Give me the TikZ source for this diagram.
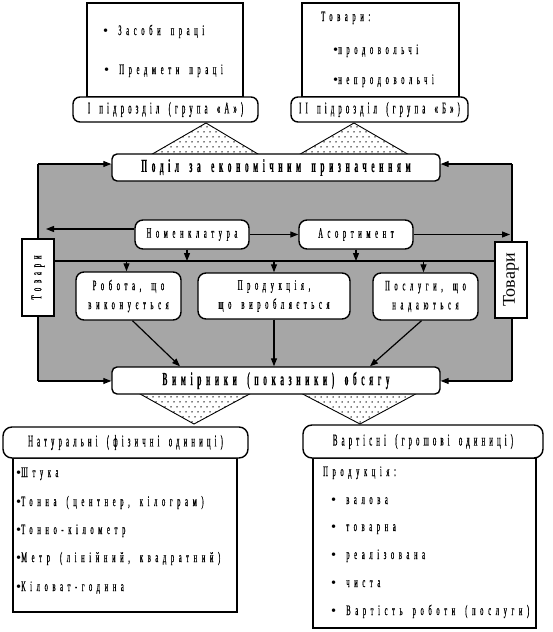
\documentclass[tikz,border=0pt]{standalone}
\usepackage{fontspec}
\setmainfont{Liberation Serif}
\newfontfamily\itemfont{Liberation Serif}[FakeStretch=0.45,LetterSpace=32,WordSpace=1.6,FakeBold=0.6]
\newfontfamily\labfont{Liberation Serif}[FakeStretch=0.41,LetterSpace=25,WordSpace=1.6,FakeBold=0.6]
\newfontfamily\headfont{Liberation Serif}[FakeStretch=0.4,LetterSpace=25,WordSpace=1.6,FakeBold=0.4]
\usetikzlibrary{arrows.meta,patterns,positioning}
\definecolor{panelgray}{RGB}{166,166,166}
\pgfdeclarepatternformonly{sparsedots}{\pgfqpoint{-1pt}{-1pt}}{\pgfqpoint{7pt}{11pt}}{\pgfqpoint{6pt}{10pt}}{%
  \pgfpathcircle{\pgfqpoint{0pt}{0pt}}{0.75pt}%
  \pgfpathcircle{\pgfqpoint{3pt}{5pt}}{0.75pt}%
  \pgfusepath{fill}}
\newcommand{\itemdot}{{\normalfont\textbullet}}
\tikzset{
  sheet/.style={draw, line width=1.4pt, fill=white, inner sep=0pt},
  lab/.style={draw, line width=1.4pt, fill=white, rounded corners=7pt, inner sep=0pt, font=\labfont\fontsize{16.5}{18}\selectfont},
  head/.style={draw, line width=1.4pt, fill=white, rounded corners=5pt, inner sep=0pt, font=\headfont\bfseries\fontsize{18.5}{20}\selectfont},
  inbox/.style={draw, line width=1.4pt, fill=white, rounded corners=8pt, inner sep=0pt, align=center, font=\itemfont\fontsize{14.5}{16}\selectfont},
  itemtext/.style={anchor=base west, inner sep=0pt, font=\itemfont\fontsize{14.5}{16}\selectfont},
  flow/.style={line width=1.2pt, -{Triangle[length=8pt,width=6pt]}},
  rim/.style={line width=1.2pt},
  funnel/.style={draw, line width=0.9pt, pattern=sparsedots},
}

\begin{document}
\begin{tikzpicture}[x=1pt,y=-1pt]
	\useasboundingbox (0,0) rectangle (552,632);
	\fill[panelgray] (38,164) rectangle (512,381);
	\coordinate (p1) at (38,164);
	\coordinate (p2) at (512,164);
	\coordinate (p3) at (38,381);
	\coordinate (p4) at (512,381);
	\draw[rim] (p1) -- (p3);
	\draw[rim] (p2) -- (p4);
	\draw[funnel] (142,160) -- (206,123) -- (268,160) -- cycle;
	\draw[funnel] (290,160) -- (354,123) -- (418,160) -- cycle;
	\draw[funnel] (133,390) -- (194,424) -- (257,390) -- cycle;
	\draw[funnel] (295,390) -- (360,424) -- (423,390) -- cycle;

	\node[sheet, minimum width=156pt, minimum height=94pt] (t1) at (165,50) {};
	\node[itemtext] (t1a) at (103,35) {\itemdot\ Засоби праці};
	\node[itemtext] (t1b) at (104,74) {\itemdot\ Предмети праці};
	\node[lab, minimum width=185pt, minimum height=25pt] (l1) at (165.5,109.5) {І підрозділ (група «А»)};
	\node[sheet, minimum width=157pt, minimum height=94pt] (t2) at (380.5,50) {};
	\node[itemtext] (t2a) at (321,21) {Товари:};
	\node[itemtext] (t2b) at (333,54) {\itemdot продовольчі};
	\node[itemtext] (t2c) at (333,84) {\itemdot непродовольчі};
	\node[lab, minimum width=177pt, minimum height=25pt] (l2) at (379.5,109.5) {ІІ підрозділ (група «Б»)};

	\node[head, minimum width=328pt, minimum height=27pt] (split) at (276,167.5) {Поділ за економічним призначенням};
	\draw[flow] (p1) -- (p1 -| split.west);
	\draw[flow] (p2) -- (p2 -| split.east);

	\node[inbox, minimum width=114pt, minimum height=29pt] (nom) at (192,234.5) {Номенклатура};
	\node[inbox, minimum width=114pt, minimum height=29pt] (asort) at (356,234.5) {Асортимент};
	\coordinate (n1) at (46,229);
	\coordinate (n2) at (510,234.5);
	\draw[flow] (nom.west |- n1) -- (n1);
	\draw[flow] (nom.east) -- (asort.west);
	\draw[flow] (asort.east) -- (n2);

	\node[sheet, minimum width=32pt, minimum height=77pt] (gl) at (38,277.5) {\rotatebox{90}{\itemfont\fontsize{15}{16}\selectfont Товари}};
	\node[sheet, minimum width=32pt, minimum height=76pt] (gr) at (511,280) {\rotatebox{90}{\fontsize{18}{19}\selectfont Товари}};
	\coordinate (h1) at (0,261);
	\draw[rim] (gl.east |- h1) -- (gr.west |- h1);
	\draw[flow] ([xshift=-5pt]nom.south) -- ([xshift=-5pt]nom.south |- h1);
	\draw[flow] (asort.south) -- (asort.south |- h1);

	\node[inbox, minimum width=105pt, minimum height=48pt] (w1) at (128.5,296) {Робота, що\\[3pt]виконується};
	\node[inbox, minimum width=152pt, minimum height=46pt] (w2) at (274,296) {Продукція,\\[3pt]що виробляється};
	\node[inbox, minimum width=105pt, minimum height=47pt] (w3) at (425.5,296.5) {Послуги, що\\[3pt]надаються};
	\draw[flow] ([xshift=-2pt]w1.north |- h1) -- ([xshift=-2pt]w1.north);
	\draw[flow] (w2.north |- h1) -- (w2.north);
	\draw[flow] ([xshift=-2pt]w3.north |- h1) -- ([xshift=-2pt]w3.north);

	\node[head, minimum width=328pt, minimum height=27pt] (meas) at (276,380.5) {Вимірники (показники) обсягу};
	\draw[flow] ([xshift=4pt]w1.south) -- ([xshift=-96pt]meas.north);
	\draw[flow] (w2.south) -- (w2.south |- meas.north);
	\draw[flow] ([xshift=-4pt]w3.south) -- ([xshift=94pt]meas.north);
	\draw[flow] (p3) -- (p3 -| meas.west);
	\draw[flow] (p4) -- (p4 -| meas.east);

	\node[sheet, minimum width=224pt, minimum height=154pt] (natlist) at (125,535) {};
	\node[lab, rounded corners=9pt, minimum width=245pt, minimum height=31pt] (nat) at (125.5,442.5) {Натуральні (фізичні одиниці)};
	\node[itemtext] (u1) at (16,477) {\itemdot Штука};
	\node[itemtext] (u2) at (16,506) {\itemdot Тонна (центнер, кілограм)};
	\node[itemtext] (u3) at (16,534) {\itemdot Тонно-кілометр};
	\node[itemtext] (u4) at (16,562) {\itemdot Метр (лінійний, квадратний)};
	\node[itemtext] (u5) at (16,591) {\itemdot Кіловат-година};

	\node[sheet, minimum width=223pt, minimum height=170pt] (vallist) at (424.5,543) {};
	\node[lab, rounded corners=9pt, minimum width=240pt, minimum height=33pt] (val) at (423,441.5) {Вартісні (грошові одиниці)};
	\node[itemtext] (v0) at (323,476) {Продукція:};
	\node[itemtext] (v1) at (331,504) {\itemdot\ валова};
	\node[itemtext] (v2) at (331,531) {\itemdot\ товарна};
	\node[itemtext] (v3) at (331,559) {\itemdot\ реалізована};
	\node[itemtext] (v4) at (331,587) {\itemdot\ чиста};
	\node[itemtext] (v5) at (331,615) {\itemdot\ Вартість роботи (послуги)};
\end{tikzpicture}
\end{document}
